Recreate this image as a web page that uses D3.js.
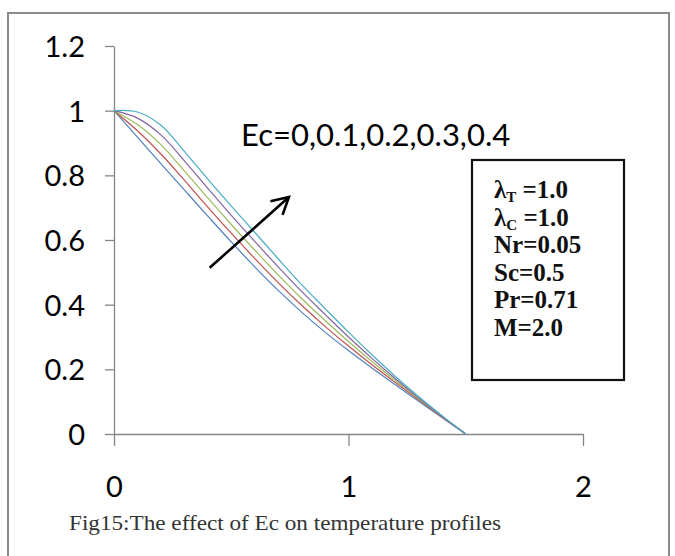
<!DOCTYPE html>
<html><head><meta charset="utf-8">
<script src="https://cdn.jsdelivr.net/npm/d3@7"></script>
<style>body{margin:0;background:#fff}svg{display:block}</style>
</head><body><svg id="c" width="675" height="556"></svg>
<script>
const xs = [0,0.1,0.2,0.3,0.4,0.5,0.6,0.7,0.8,0.9,1.0,1.1,1.2,1.3,1.4,1.5];
const ec0  = [1,0.918,0.836,0.755,0.674,0.594,0.517,0.444,0.377,0.315,0.258,0.204,0.152,0.101,0.05,0];
const ec01 = [1,0.938,0.866,0.785,0.702,0.621,0.543,0.468,0.398,0.333,0.272,0.214,0.159,0.105,0.052,0];
const ec02 = [1,0.957,0.895,0.814,0.73,0.648,0.569,0.492,0.419,0.351,0.286,0.224,0.165,0.108,0.053,0];
const ec03 = [1,0.977,0.925,0.845,0.76,0.676,0.596,0.517,0.441,0.37,0.3,0.234,0.171,0.111,0.054,0];
const ec04 = [1,0.996,0.955,0.874,0.788,0.705,0.624,0.542,0.462,0.388,0.315,0.245,0.178,0.115,0.056,0];
const seriesNames = ["Ec=0","Ec=0.1","Ec=0.2","Ec=0.3","Ec=0.4"];
const seriesColors = ["#4F81BD","#C0504D","#9BBB59","#8064A2","#4BACC6"];
const xTicks = [0,1,2];
const yTicks = [0,0.2,0.4,0.6,0.8,1,1.2];
const arrowFrom = [0.408,0.514], arrowTo = [0.746,0.733];
const ecLabel = "Ec=0,0.1,0.2,0.3,0.4";
const params = [["λ","T"," =1.0"],["λ","C"," =1.0"],["Nr=0.05"],["Sc=0.5"],["Pr=0.71"],["M=2.0"]];
const caption = "Fig15:The effect of Ec on temperature profiles";

const svg = d3.select("#c");
const x = d3.scaleLinear().domain([0,2]).range([114,583]);
const y = d3.scaleLinear().domain([0,1.2]).range([434,46]);

// outer frame
svg.append("rect").attr("x",8).attr("y",13).attr("width",661).attr("height",560)
  .attr("fill","none").attr("stroke","#8c8c8c").attr("stroke-width",2);

// axes
const axCol = "#868686";
const gx = svg.append("g").attr("transform",`translate(0,${y(0)})`)
  .call(d3.axisBottom(x).tickValues(xTicks).tickSize(12).tickSizeOuter(0).tickFormat(d3.format("d")));
const gy = svg.append("g").attr("transform",`translate(${x(0)},0)`)
  .call(d3.axisLeft(y).tickValues(yTicks).tickSize(9).tickSizeOuter(0).tickFormat(d=>d));
[gx,gy].forEach(g=>{
  g.select(".domain").attr("stroke",axCol).attr("stroke-width",1.3);
  g.selectAll(".tick line").attr("stroke",axCol).attr("stroke-width",1.3);
  g.selectAll("text").attr("fill","#000").style("font-family","Lato, 'Open Sans', sans-serif").style("font-size","29px");
});
gy.selectAll(".tick text").attr("x",-29).attr("dy","0.36em");
gx.selectAll(".tick text").attr("y",0).attr("dy",0).attr("transform","translate(0,63)");

// curves
const series = [ec0,ec01,ec02,ec03,ec04];
const line = d3.line().x(d=>x(d[0])).y(d=>y(d[1])).curve(d3.curveCatmullRom.alpha(0.5));
series.forEach((s,i)=>{
  svg.append("path").datum(xs.map((v,j)=>[v,s[j]]))
    .attr("d",line).attr("fill","none").attr("stroke",seriesColors[i]).attr("stroke-width",1.2);
});

// arrow
const ax1 = x(arrowFrom[0]), ay1 = y(arrowFrom[1]), ax2 = x(arrowTo[0]), ay2 = y(arrowTo[1]);
svg.append("line").attr("x1",ax1).attr("y1",ay1).attr("x2",ax2).attr("y2",ay2)
  .attr("stroke","#000").attr("stroke-width",2.6);
const ang = Math.atan2(ay2-ay1, ax2-ax1), hl = 19, ha = 0.5;
svg.append("path").attr("d",`M${ax2-hl*Math.cos(ang-ha)},${ay2-hl*Math.sin(ang-ha)}L${ax2},${ay2}L${ax2-hl*Math.cos(ang+ha)},${ay2-hl*Math.sin(ang+ha)}`)
  .attr("fill","none").attr("stroke","#000").attr("stroke-width",2.6);

// Ec label
svg.append("text").attr("x",241).attr("y",146).text(ecLabel)
  .style("font-family","Lato, 'Open Sans', sans-serif").style("font-size","31px").attr("fill","#000");

// parameter box
svg.append("rect").attr("x",472).attr("y",160).attr("width",152).attr("height",220)
  .attr("fill","#fff").attr("stroke","#111").attr("stroke-width",2.2);
const pt = svg.append("g").style("font-family","'Liberation Serif','Times New Roman',serif")
  .style("font-weight","bold").style("font-size","25px").attr("fill","#111");
params.forEach((p,i)=>{
  const t = pt.append("text").attr("x",494).attr("y",198+i*27.6);
  if(p.length===1){ t.text(p[0]); }
  else {
    t.append("tspan").text(p[0]);
    t.append("tspan").text(p[1]).attr("dy",4).style("font-size","15px");
    t.append("tspan").text(p[2]).attr("dy",-4);
  }
});

// caption
svg.append("text").attr("x",69).attr("y",530).text(caption)
  .style("font-family","'Liberation Serif','Times New Roman',serif").style("font-size","21px")
  .attr("fill","#333").attr("textLength",432).attr("lengthAdjust","spacingAndGlyphs");
</script></body></html>
